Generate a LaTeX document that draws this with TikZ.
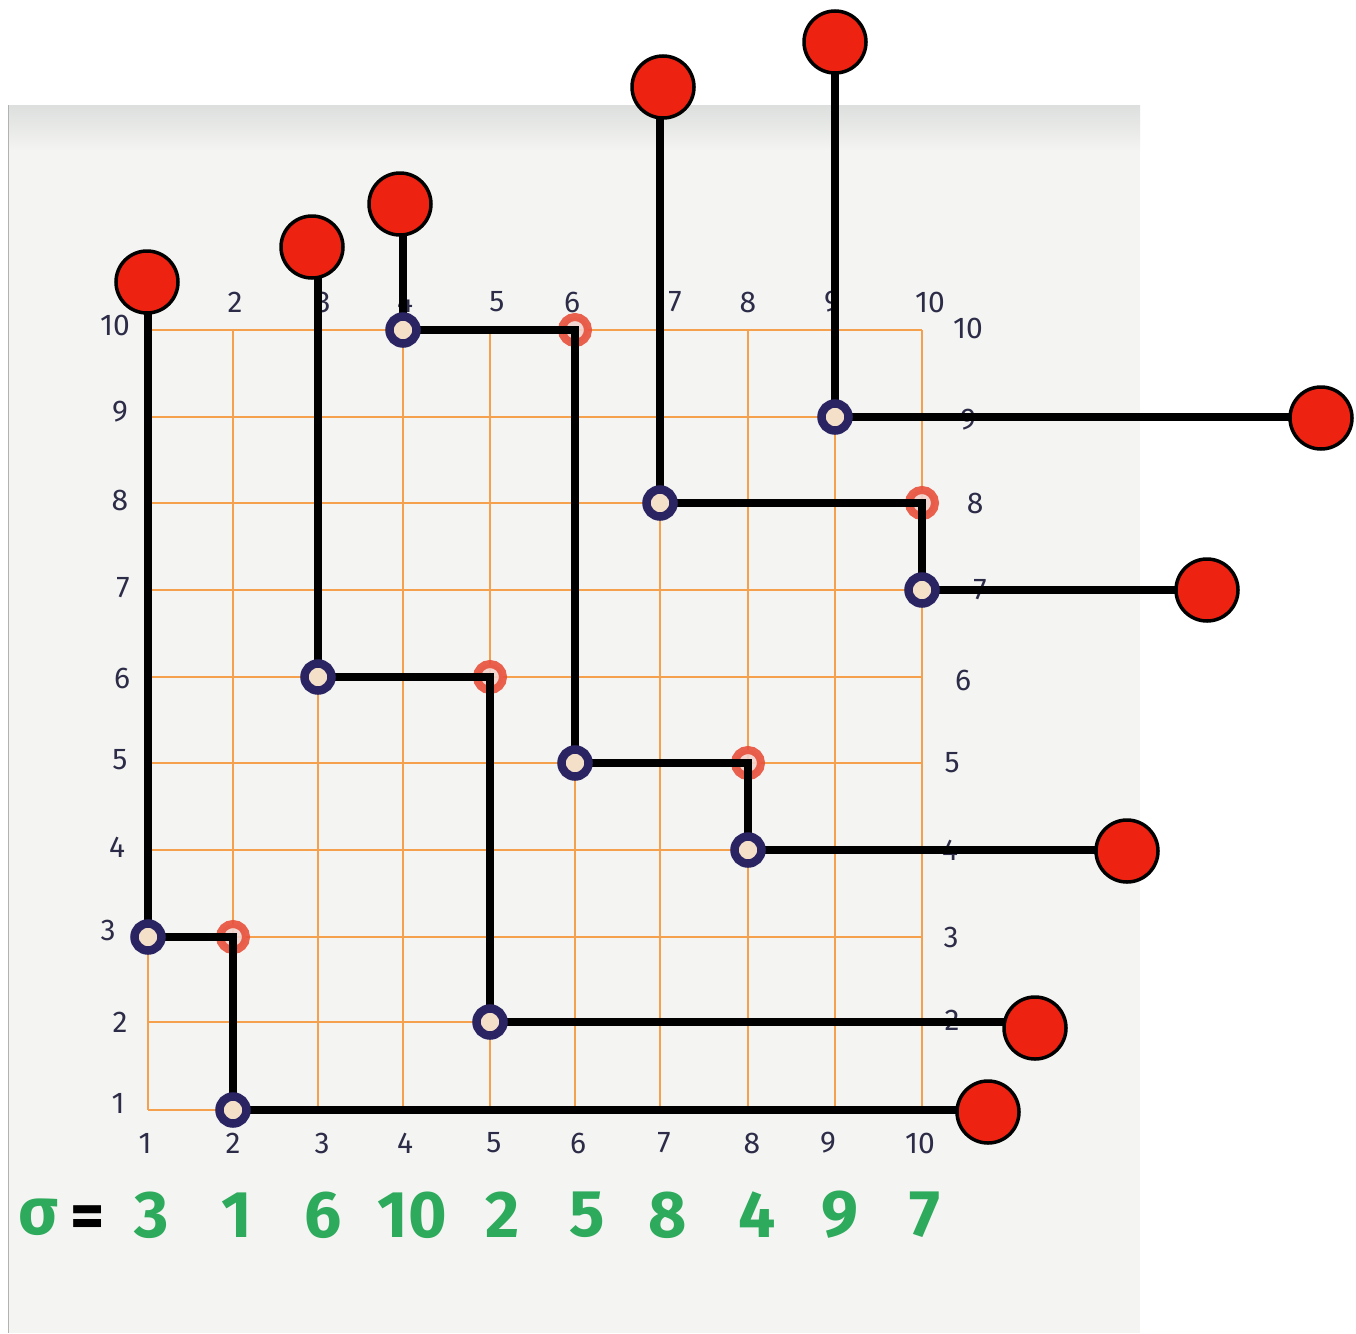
\documentclass[tikz,border=0pt]{standalone}
\usepackage{fontspec}
\setmainfont{Fira Sans}
\pgfdeclarelayer{paper}
\pgfdeclarelayer{gridl}
\pgfdeclarelayer{lines}
\pgfsetlayers{paper,gridl,lines,main}
\definecolor{paperc}{HTML}{F4F4F2}
\definecolor{papertop}{HTML}{DCDFDD}
\definecolor{gridc}{HTML}{F5A04C}
\definecolor{navy}{HTML}{2A2462}
\definecolor{labc}{HTML}{2C2C48}
\definecolor{dotred}{HTML}{EE2211}
\definecolor{markred}{HTML}{E8503C}
\definecolor{sgreen}{HTML}{2DAA5C}
\tikzset{
  ring/.style={circle, draw=navy, line width=8.5pt, fill=paperc!75!gridc, minimum size=27pt, inner sep=0pt},
  redmark/.style={circle, draw=markred, line width=8pt, fill=markred!20!paperc, minimum size=26pt, inner sep=0pt, opacity=0.9},
  bigdot/.style={circle, fill=dotred, draw=black, line width=3.5pt, minimum size=62pt, inner sep=0pt},
  conn/.style={line width=8pt, black},
  gridline/.style={line width=2.5pt, gridc},
  lab/.style={text=labc, font=\fontsize{30}{32}\selectfont, inner sep=0pt},
  sig/.style={text=sgreen, font=\fontsize{66}{70}\selectfont\bfseries, inner sep=0pt},
}
\begin{document}
\begin{tikzpicture}[x=1pt,y=-1pt]
\useasboundingbox (0,0) rectangle (1356,1333);
\begin{pgfonlayer}{paper}
  \fill[white] (0,0) rectangle (1356,1333);
  \fill[paperc] (8,105) rectangle (1140,1333);
  \shade[top color=papertop, bottom color=paperc] (8,105) rectangle (1140,150);
  \draw[gray!60, line width=1pt] (8,105) -- (8,1333);
\end{pgfonlayer}
% grid
\begin{pgfonlayer}{gridl}
  \foreach \x in {148,233,318,403,490,575,660,748,835,922}
    \draw[gridline] (\x,330) -- (\x,1110);
  \foreach \y in {330,417,503,590,677,763,850,937,1022,1110}
    \draw[gridline] (148,\y) -- (922,\y);
  % red marks
  \node[redmark] (m2) at (233,937) {};
  \node[redmark] (m5) at (490,677) {};
  \node[redmark] (m6) at (575,330) {};
  \node[redmark] (m8) at (748,763) {};
  \node[redmark] (m10) at (922,503) {};
  % left labels
  \node[lab] (l10) at (115,325) {10};
  \node[lab] (l9) at (120,412) {9};
  \node[lab] (l8) at (120,500) {8};
  \node[lab] (l7) at (123,588) {7};
  \node[lab] (l6) at (122,678) {6};
  \node[lab] (l5) at (120,760) {5};
  \node[lab] (l4) at (117,847) {4};
  \node[lab] (l3) at (108,930) {3};
  \node[lab] (l2) at (120,1022) {2};
  \node[lab] (l1) at (118,1103) {1};
  % bottom labels
  \foreach \x/\t in {145/1,233/2,322/3,405/4,494/5,578/6,664/7,752/8,828/9,920/10}
    \node[lab] at (\x,1143) {\t};
  % top labels
  \foreach \x/\t in {235/2,323/3,405/4,497/5,572/6,675/7,748/8,832/9,930/10}
    \node[lab] at (\x,302) {\t};
  % right labels
  \foreach \x/\y/\t in {968/328/10,968/420/9,975/503/8,980/590/7,963/680/6,952/763/5,950/850/4,951/937/3,952/1020/2}
    \node[lab] at (\x,\y) {\t};
  % sigma
  \node[sig] (sg) at (38,1217) {σ};
  \node[sig, text=black] (eq) at (88,1222) {=};
  \foreach \x/\t in {152/3,237/1,323/6,412/10,503/2,587/5,668/8,757/4,840/9,925/7}
    \node[sig] at (\x,1215) {\t};
\end{pgfonlayer}
% permutation points
\node[ring] (p1) at (148,937) {};
\node[ring] (p2) at (233,1110) {};
\node[ring] (p3) at (318,677) {};
\node[ring] (p4) at (403,330) {};
\node[ring] (p5) at (490,1022) {};
\node[ring] (p6) at (575,763) {};
\node[ring] (p7) at (660,503) {};
\node[ring] (p8) at (748,850) {};
\node[ring] (p9) at (835,417) {};
\node[ring] (p10) at (922,590) {};
% end dots
\node[bigdot] (a1) at (147,282) {};
\node[bigdot] (a3) at (312,247) {};
\node[bigdot] (a4) at (400,204) {};
\node[bigdot] (a7) at (663,87) {};
\node[bigdot] (a9) at (835,42) {};
\node[bigdot] (r9) at (1321,418) {};
\node[bigdot] (r7) at (1207,590) {};
\node[bigdot] (r4) at (1127,851) {};
\node[bigdot] (r2) at (1035,1028) {};
\node[bigdot] (r1) at (988,1112) {};
% connectors
\begin{pgfonlayer}{lines}
  \draw[conn] (p1.center |- a1.center) -- (p1.center);
  \draw[conn] (p1.center) -- (m2.center) -- (p2.center) -- (p2.center -| r1.center);
  \draw[conn] (p3.center |- a3.center) -- (p3.center);
  \draw[conn] (p3.center) -- (m5.center) -- (p5.center) -- (p5.center -| r2.center);
  \draw[conn] (p4.center |- a4.center) -- (p4.center);
  \draw[conn] (p4.center) -- (m6.center) -- (p6.center) -- (m8.center) -- (p8.center) -- (p8.center -| r4.center);
  \draw[conn] (p7.center |- a7.center) -- (p7.center);
  \draw[conn] (p7.center) -- (m10.center) -- (p10.center) -- (p10.center -| r7.center);
  \draw[conn] (p9.center |- a9.center) -- (p9.center) -- (p9.center -| r9.center);
\end{pgfonlayer}
\end{tikzpicture}
\end{document}
